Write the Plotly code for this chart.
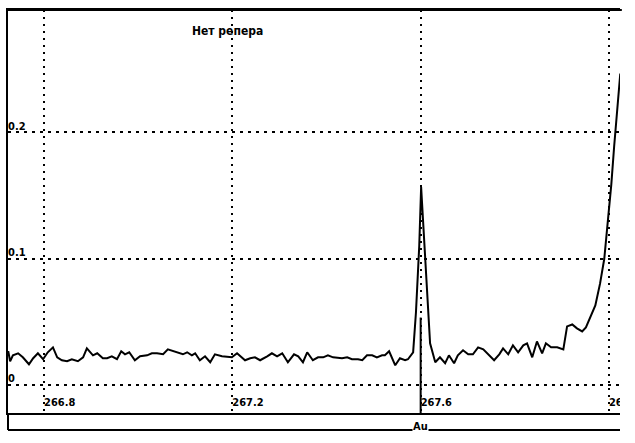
import plotly.graph_objects as go

# ---- data ----
wavelength = [
    266.722, 266.724, 266.728, 266.734, 266.745, 266.755, 266.768, 266.777, 266.787, 266.798,
    266.808, 266.819, 266.828, 266.838, 266.849, 266.859, 266.872, 266.883, 266.891, 266.904,
    266.913, 266.925, 266.934, 266.944, 266.955, 266.964, 266.972, 266.981, 266.993, 267.004,
    267.019, 267.029, 267.040, 267.053, 267.063, 267.074, 267.087, 267.095, 267.104, 267.114,
    267.121, 267.131, 267.142, 267.153, 267.163, 267.178, 267.199, 267.210, 267.227, 267.238,
    267.248, 267.259, 267.274, 267.284, 267.295, 267.306, 267.318, 267.331, 267.340, 267.350,
    267.359, 267.371, 267.382, 267.393, 267.403, 267.414, 267.433, 267.444, 267.454, 267.467,
    267.476, 267.486, 267.497, 267.507, 267.518, 267.524, 267.533, 267.546, 267.556, 267.567,
    267.573, 267.584, 267.590, 267.597, 267.601, 267.607, 267.614, 267.620, 267.631, 267.641,
    267.652, 267.660, 267.671, 267.679, 267.690, 267.701, 267.711, 267.722, 267.733, 267.743,
    267.756, 267.767, 267.775, 267.786, 267.796, 267.807, 267.818, 267.826, 267.837, 267.847,
    267.858, 267.866, 267.877, 267.890, 267.903, 267.911, 267.922, 267.932, 267.943, 267.951,
    267.960, 267.971, 267.981, 267.990, 267.998, 268.005, 268.011, 268.017, 268.024,
]
intensity = [
    0.0236, 0.0268, 0.0189, 0.0236, 0.0252, 0.0220, 0.0165, 0.0213, 0.0252, 0.0205,
    0.0260, 0.0299, 0.0220, 0.0197, 0.0189, 0.0205, 0.0189, 0.0220, 0.0291, 0.0236,
    0.0252, 0.0213, 0.0213, 0.0228, 0.0205, 0.0268, 0.0244, 0.0260, 0.0197, 0.0228,
    0.0236, 0.0252, 0.0252, 0.0244, 0.0283, 0.0268, 0.0252, 0.0244, 0.0260, 0.0236,
    0.0252, 0.0197, 0.0228, 0.0181, 0.0244, 0.0228, 0.0220, 0.0252, 0.0197, 0.0213,
    0.0220, 0.0197, 0.0228, 0.0252, 0.0228, 0.0252, 0.0181, 0.0244, 0.0228, 0.0181,
    0.0260, 0.0197, 0.0220, 0.0220, 0.0236, 0.0220, 0.0213, 0.0220, 0.0205, 0.0205,
    0.0197, 0.0236, 0.0236, 0.0220, 0.0236, 0.0236, 0.0268, 0.0157, 0.0213, 0.0197,
    0.0205, 0.0260, 0.0575, 0.1102, 0.1567, 0.1142, 0.0669, 0.0331, 0.0181, 0.0220,
    0.0173, 0.0236, 0.0173, 0.0236, 0.0276, 0.0244, 0.0244, 0.0299, 0.0283, 0.0244,
    0.0197, 0.0244, 0.0291, 0.0244, 0.0315, 0.0260, 0.0315, 0.0331, 0.0220, 0.0346,
    0.0252, 0.0331, 0.0299, 0.0299, 0.0283, 0.0465, 0.0480, 0.0449, 0.0425, 0.0457,
    0.0535, 0.0630, 0.0803, 0.1000, 0.1315, 0.1591, 0.1890, 0.2181, 0.2465,
]
x_ticks = [266.8, 267.2, 267.6, 268.0]
x_tick_labels = ["266.8", "267.2", "267.6", "268.0"]
y_ticks = [0, 0.1, 0.2]
y_tick_labels = ["0", "0.1", "0.2"]
x_range = [266.7235, 268.0234]
y_range = [-0.02205, 0.29685]
title_text = "Нет репера"
element_label = "Au"
element_position = 267.6
element_marker_top = 0.0535

FONT = ("Noto Sans ExtraCondensed, Noto Sans Condensed, Liberation Sans Narrow, "
        "DejaVu Sans Condensed, sans-serif")

fig = go.Figure()

fig.add_trace(go.Scatter(
    x=wavelength, y=intensity, mode="lines",
    line=dict(color="black", width=2), hoverinfo="skip", showlegend=False,
))

# x tick labels inside the plot, just right of each grid line, clipped at the edge
fig.add_trace(go.Scatter(
    x=x_ticks, y=[-0.0142] * len(x_ticks), mode="text", text=x_tick_labels,
    textposition="middle right", cliponaxis=True,
    textfont=dict(family=FONT, size=11, color="black", weight="bold"),
    hoverinfo="skip", showlegend=False,
))

# y tick labels inside the plot, above each grid line at the left edge
fig.add_trace(go.Scatter(
    x=[x_range[0]] * len(y_ticks), y=y_ticks, mode="text", text=y_tick_labels,
    textposition="top right", cliponaxis=True,
    textfont=dict(family=FONT, size=11, color="black", weight="bold"),
    hoverinfo="skip", showlegend=False,
))

# element marker line
fig.add_shape(type="line", xref="x", yref="y",
              x0=element_position, x1=element_position,
              y0=element_marker_top, y1=y_range[0],
              line=dict(color="black", width=2))

# top frame line
fig.add_shape(type="line", xref="paper", yref="paper", x0=0, x1=1.003,
              y0=1, y1=1, line=dict(color="black", width=2))

# bottom strip (below the plot area)
strip_bottom = -0.042
fig.add_shape(type="line", xref="paper", yref="paper", x0=0, x1=1,
              y0=strip_bottom, y1=strip_bottom, line=dict(color="black", width=2))
fig.add_shape(type="line", xref="paper", yref="paper", x0=0, x1=0,
              y0=0, y1=strip_bottom, line=dict(color="black", width=2))

fig.add_annotation(x=267.189, y=0.2803, xref="x", yref="y", text=title_text,
                   showarrow=False,
                   font=dict(family=FONT, size=12, color="black", weight="bold"))
fig.add_annotation(x=element_position, y=strip_bottom, xref="x", yref="paper",
                   text=element_label, showarrow=False, yanchor="middle", yshift=3,
                   bgcolor="white", borderpad=0,
                   font=dict(family=FONT, size=11, color="black", weight="bold"))

fig.update_layout(
    width=635, height=443,
    margin=dict(l=8, r=15, t=8, b=30),
    paper_bgcolor="white", plot_bgcolor="white",
    showlegend=False,
    xaxis=dict(range=x_range, tickvals=x_ticks, showticklabels=False, ticks="",
               showgrid=True, gridcolor="black", gridwidth=2, griddash="2px,5px",
               showline=True, linecolor="black", linewidth=2, mirror=True,
               zeroline=False),
    yaxis=dict(range=y_range, tickvals=y_ticks, showticklabels=False, ticks="",
               showgrid=True, gridcolor="black", gridwidth=2, griddash="3px,5px",
               showline=True, linecolor="black", linewidth=2,
               zeroline=False),
)

fig.write_html("out.html", config={"displayModeBar": False},
               post_script="document.body.style.margin='0';document.body.style.overflow='hidden';")
